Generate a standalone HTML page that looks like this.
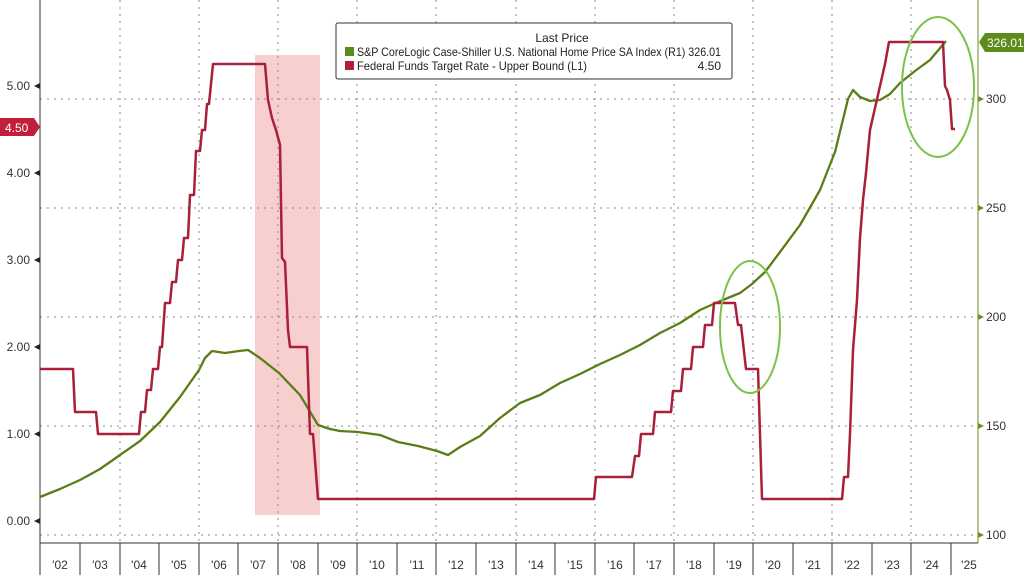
<!DOCTYPE html>
<html><head><meta charset="utf-8"><style>
html,body{margin:0;padding:0;background:#fff;}
svg{display:block;font-family:"Liberation Sans","DejaVu Sans",sans-serif;}
</style></head><body>
<svg width="1024" height="575" viewBox="0 0 1024 575" xmlns="http://www.w3.org/2000/svg">
<rect width="1024" height="575" fill="#fff"/>
<rect x="255" y="55" width="65" height="460" fill="#f8cfcf"/>
<g stroke="#888" stroke-width="1" stroke-dasharray="2,5">
<line x1="40" y1="99" x2="978" y2="99"/>
<line x1="40" y1="208" x2="978" y2="208"/>
<line x1="40" y1="317" x2="978" y2="317"/>
<line x1="40" y1="426" x2="978" y2="426"/>
<line x1="40" y1="535" x2="978" y2="535"/>
<line x1="120" y1="0" x2="120" y2="543"/>
<line x1="199" y1="0" x2="199" y2="543"/>
<line x1="278" y1="0" x2="278" y2="543"/>
<line x1="357" y1="0" x2="357" y2="543"/>
<line x1="436" y1="0" x2="436" y2="543"/>
<line x1="516" y1="0" x2="516" y2="543"/>
<line x1="595" y1="0" x2="595" y2="543"/>
<line x1="674" y1="0" x2="674" y2="543"/>
<line x1="753" y1="0" x2="753" y2="543"/>
<line x1="832" y1="0" x2="832" y2="543"/>
<line x1="911" y1="0" x2="911" y2="543"/>
</g>
<line x1="40" y1="0" x2="40" y2="543" stroke="#333" stroke-width="1"/>
<line x1="978" y1="0" x2="978" y2="543" stroke="#6b8e23" stroke-width="1"/>
<line x1="40" y1="543" x2="978" y2="543" stroke="#333" stroke-width="1"/>
<g stroke="#333" stroke-width="1">
<line x1="40" y1="543" x2="40" y2="575"/><line x1="80" y1="543" x2="80" y2="575"/><line x1="120" y1="543" x2="120" y2="575"/><line x1="159" y1="543" x2="159" y2="575"/><line x1="199" y1="543" x2="199" y2="575"/><line x1="238" y1="543" x2="238" y2="575"/><line x1="278" y1="543" x2="278" y2="575"/><line x1="318" y1="543" x2="318" y2="575"/><line x1="357" y1="543" x2="357" y2="575"/><line x1="397" y1="543" x2="397" y2="575"/><line x1="436" y1="543" x2="436" y2="575"/><line x1="476" y1="543" x2="476" y2="575"/><line x1="516" y1="543" x2="516" y2="575"/><line x1="555" y1="543" x2="555" y2="575"/><line x1="595" y1="543" x2="595" y2="575"/><line x1="634" y1="543" x2="634" y2="575"/><line x1="674" y1="543" x2="674" y2="575"/><line x1="714" y1="543" x2="714" y2="575"/><line x1="753" y1="543" x2="753" y2="575"/><line x1="793" y1="543" x2="793" y2="575"/><line x1="832" y1="543" x2="832" y2="575"/><line x1="872" y1="543" x2="872" y2="575"/><line x1="911" y1="543" x2="911" y2="575"/><line x1="951" y1="543" x2="951" y2="575"/>
</g>
<g font-size="12" fill="#333" text-anchor="middle">
<text x="60" y="569">'02</text><text x="100" y="569">'03</text><text x="139" y="569">'04</text><text x="179" y="569">'05</text><text x="219" y="569">'06</text><text x="258" y="569">'07</text><text x="298" y="569">'08</text><text x="338" y="569">'09</text><text x="377" y="569">'10</text><text x="417" y="569">'11</text><text x="456" y="569">'12</text><text x="496" y="569">'13</text><text x="536" y="569">'14</text><text x="575" y="569">'15</text><text x="615" y="569">'16</text><text x="654" y="569">'17</text><text x="694" y="569">'18</text><text x="734" y="569">'19</text><text x="773" y="569">'20</text><text x="813" y="569">'21</text><text x="852" y="569">'22</text><text x="892" y="569">'23</text><text x="931" y="569">'24</text><text x="969" y="569">'25</text>
</g>
<g font-size="12" fill="#333" text-anchor="end">
<text x="30" y="525">0.00</text><text x="30" y="438">1.00</text><text x="30" y="351">2.00</text><text x="30" y="264">3.00</text><text x="30" y="177">4.00</text><text x="30" y="90">5.00</text>
</g>
<g fill="#222">
<polygon points="34,521 40,518 40,524"/><polygon points="34,434 40,431 40,437"/><polygon points="34,347 40,344 40,350"/><polygon points="34,260 40,257 40,263"/><polygon points="34,173 40,170 40,176"/><polygon points="34,86 40,83 40,89"/>
</g>
<g font-size="12" fill="#333">
<text x="986" y="103">300</text><text x="986" y="212">250</text><text x="986" y="321">200</text><text x="986" y="430">150</text><text x="986" y="539">100</text>
</g>
<g fill="#6b8e23">
<polygon points="984,99 978,96 978,102"/><polygon points="984,208 978,205 978,211"/><polygon points="984,317 978,314 978,320"/><polygon points="984,426 978,423 978,429"/><polygon points="984,535 978,532 978,538"/>
</g>
<polygon points="979,42 985,33 1024,33 1024,52 985,52" fill="#5f8a1c"/>
<text x="987" y="47" font-size="12" fill="#fff">326.01</text>
<polygon points="0,118 34,118 40,127 34,136 0,136" fill="#c0203a"/>
<text x="5" y="132" font-size="12" fill="#fff">4.50</text>
<polyline fill="none" stroke="#5a7d16" stroke-width="2.3" stroke-linejoin="round" points="40,497 60,489 80,480 100,469 120,455 140,441 160,422 180,397 199,370 205,358 212,351 225,353 239,351 248,350 260,358 279,373 300,395 318,425 330,429 340,431 358,432 380,435 398,442 418,446 437,451 448,455 460,447 480,436 500,418 520,403 540,395 560,383 580,374 600,364 620,355 640,345 660,333 680,323 700,310 718,302 740,293 752,284 765,272 780,252 800,225 820,190 835,152 848,99 853,90 860,97 870,101 880,100 890,94 900,83 915,71 930,60 946,41"/>
<polyline fill="none" stroke="#a8203a" stroke-width="2.5" stroke-linejoin="round" points="40,369 73,369 75,412 96,412 98,434 139,434 141,412 145,412 147,390 151,390 153,369 158,369 160,347 162,347 165,303 170,303 172,282 176,282 178,260 182,260 184,238 188,238 190,195 194,195 196,151 200,151 202,130 205,130 207,104 209,104 213,64 265,64 268,100 272,118 276,130 280,145 282,258 285,262 288,330 290,347 307,347 310,434 313,434 318,499 594,499 596,477 632,477 635,456 639,456 641,434 653,434 655,412 671,412 673,391 681,391 683,369 691,369 693,347 703,347 705,325 712,325 714,303 735,303 738,325 741,325 746,369 758,369 762,499 842,499 844,477 848,477 850,434 853,350 857,300 860,238 863,200 866,173 870,130 875,108 880,86 885,64 889,42 943,42 945,86 947,90 950,100 952,129 955,129"/>
<ellipse cx="750" cy="327" rx="30" ry="66" fill="none" stroke="#7cc24a" stroke-width="2"/>
<ellipse cx="938" cy="87" rx="36" ry="70" fill="none" stroke="#7cc24a" stroke-width="2"/>
<rect x="336" y="23" width="396" height="56" fill="#fff" stroke="#333" stroke-width="1" rx="2"/>
<text x="562" y="42" font-size="12" fill="#222" text-anchor="middle">Last Price</text>
<rect x="345" y="47" width="9" height="9" fill="#5a8a1a"/>
<text x="357" y="56" font-size="12" fill="#222" textLength="364" lengthAdjust="spacingAndGlyphs">S&amp;P CoreLogic Case-Shiller U.S. National Home Price SA Index  (R1) 326.01</text>
<rect x="345" y="61" width="9" height="9" fill="#b0203a"/>
<text x="357" y="70" font-size="12" fill="#222" textLength="230" lengthAdjust="spacingAndGlyphs">Federal Funds Target Rate - Upper Bound  (L1)</text>
<text x="721" y="70" font-size="12" fill="#222" text-anchor="end">4.50</text>
</svg>
</body></html>
